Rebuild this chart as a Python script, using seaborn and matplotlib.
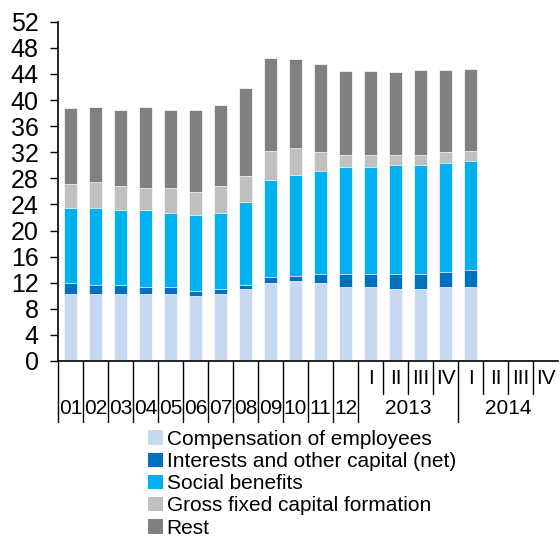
import matplotlib
matplotlib.use('Agg')
import matplotlib.pyplot as plt
import matplotlib.transforms as mtransforms
from matplotlib.patches import Patch
import pandas as pd
import seaborn as sns

# slots on the x axis: 12 years, then quarters of 2013 and 2014
slots = ['01', '02', '03', '04', '05', '06', '07', '08', '09', '10', '11', '12',
         '2013 I', '2013 II', '2013 III', '2013 IV', '2014 I', '2014 II', '2014 III', '2014 IV']
year_labels = ['01', '02', '03', '04', '05', '06', '07', '08', '09', '10', '11', '12']
quarter_labels = ['I', 'II', 'III', 'IV', 'I', 'II', 'III', 'IV']
quarter_years = ['2013', '2014']

series_names = ['Compensation of employees', 'Interests and other capital (net)',
                'Social benefits', 'Gross fixed capital formation', 'Rest']
compensation = [10.2, 10.2, 10.2, 10.2, 10.2, 9.9, 10.2, 11.1, 12.0, 12.2, 12.0, 11.4,
                11.4, 11.1, 11.1, 11.4, 11.4]
interests = [1.7, 1.4, 1.4, 1.1, 1.1, 0.8, 0.8, 0.6, 0.9, 0.9, 1.4, 2.0,
             2.0, 2.2, 2.2, 2.3, 2.6]
social = [11.6, 11.9, 11.6, 11.9, 11.4, 11.6, 11.7, 12.6, 14.9, 15.4, 15.7, 16.4,
          16.4, 16.7, 16.7, 16.7, 16.7]
gfcf = [3.6, 3.9, 3.6, 3.3, 3.8, 3.6, 4.1, 4.1, 4.4, 4.1, 3.0, 1.8,
        1.8, 1.5, 1.5, 1.7, 1.5]
rest = [11.6, 11.6, 11.7, 12.5, 12.0, 12.5, 12.5, 13.4, 14.3, 13.7, 13.4, 12.8,
        12.8, 12.8, 13.1, 12.5, 12.5]
colors = ['#C6D9F0', '#0070C0', '#00B0F0', '#BFBFBF', '#808080']

sns.set_style('white')
plt.rcParams['font.family'] = ['Liberation Sans', 'DejaVu Sans']
plt.rcParams['text.color'] = 'black'
plt.rcParams['ytick.color'] = 'black'
plt.rcParams['xtick.color'] = 'black'

n = len(compensation)
df = pd.DataFrame({'slot': slots[:n]})
running = 0
cum_cols = []
for name, vals in zip(series_names, [compensation, interests, social, gfcf, rest]):
    running = running + pd.Series(vals)
    df[name] = running.values
    cum_cols.append(name)

fig = plt.figure(figsize=(5.6, 5.37), dpi=100)
ax = fig.add_axes([58 / 560, 176 / 537, 500 / 560, 339.3 / 537])

# stacked bars drawn as overlapping cumulative totals, top series first
for name, c in zip(reversed(cum_cols), reversed(colors)):
    sns.barplot(data=df, x='slot', y=name, order=slots, color=c, width=0.55,
                edgecolor='white', linewidth=0.5, saturation=1, ax=ax)

ax.set_xlim(-0.5, len(slots) - 0.5)
ax.set_ylim(0, 52)
ax.set_yticks(range(0, 53, 4))
ax.set_xlabel('')
ax.set_ylabel('')
ax.tick_params(axis='y', length=6, width=1, pad=8, labelsize=18, left=True,
               color='black', labelcolor='black')
ax.tick_params(axis='x', length=0, labelbottom=False)
for side in ['top', 'right']:
    ax.spines[side].set_visible(False)
for side in ['left', 'bottom']:
    ax.spines[side].set_color('black')
    ax.spines[side].set_linewidth(1.2)

# two level category axis
trans = mtransforms.blended_transform_factory(ax.transData, ax.transAxes)
long_y = -0.18
short_y = -0.097
for i in range(13):
    ax.plot([i - 0.5, i - 0.5], [0, long_y], color='black', lw=1, transform=trans, clip_on=False)
ax.plot([15.5, 15.5], [0, long_y], color='black', lw=1, transform=trans, clip_on=False)
for x in [12.5, 13.5, 14.5, 16.5, 17.5, 18.5]:
    ax.plot([x, x], [0, short_y], color='black', lw=1, transform=trans, clip_on=False)

for i, lab in enumerate(year_labels):
    ax.text(i, -0.141, lab, transform=trans, ha='center', va='center', fontsize=15)
for i, lab in enumerate(quarter_labels):
    ax.text(12 + i, -0.053, lab, transform=trans, ha='center', va='center', fontsize=15)
for i, lab in enumerate(quarter_years):
    ax.text(13.5 + 4 * i, -0.141, lab, transform=trans, ha='center', va='center', fontsize=15)

handles = [Patch(facecolor=c, edgecolor='none') for c in colors]
leg = fig.legend(handles, series_names, loc='upper left', bbox_to_anchor=(148 / 560, 1 - 430 / 537),
                 frameon=False, fontsize=15, handlelength=0.7, handleheight=0.7,
                 handletextpad=0.2, labelspacing=0.15, borderpad=0, borderaxespad=0)
for t in leg.get_texts():
    t.set_color('black')

fig.savefig('out.png', dpi=100)
